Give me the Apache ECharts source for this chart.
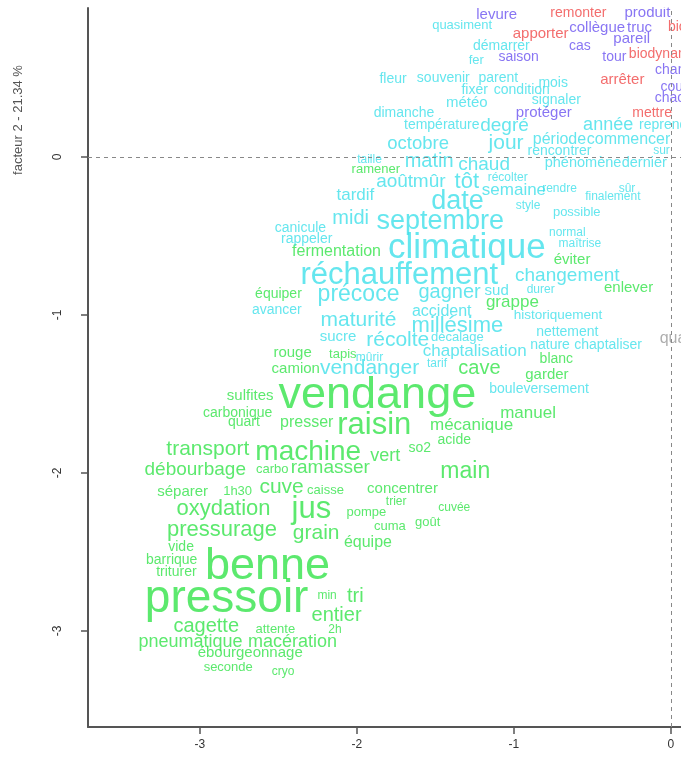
<!DOCTYPE html>
<html>
<head>
<meta charset="utf-8">
<script src="https://cdn.jsdelivr.net/npm/echarts@6/dist/echarts.min.js"></script>
<style>html,body{margin:0;padding:0;background:#fff;overflow:hidden}#c{width:681px;height:769px}</style>
</head>
<body>
<div id="c"></div>
<script>
// ---- data (factor coordinates and chi2-like weights per class) ----
var tickValues = [-3, -2, -1, 0];
var yAxisTitle = 'facteur 2 - 21.34 %';

var redWords = ['remonter','apporter','bio','biodynamie','arrêter','mettre'];
var redX     = [-0.59,-0.83,0.04,-0.04,-0.31,-0.12];
var redY     = [0.91,0.78,0.82,0.65,0.49,0.28];
var redScore = [12,14,12,12,14,12];

var blueWords = ['levure','produit','collègue','truc','pareil','cas','saison','tour','changer','coup','chacun','protéger'];
var blueX     = [-1.11,-0.15,-0.47,-0.20,-0.25,-0.58,-0.97,-0.36,0.06,0.03,0.04,-0.81];
var blueY     = [0.90,0.91,0.82,0.82,0.75,0.70,0.63,0.63,0.55,0.44,0.37,0.28];
var blueScore = [14,14,14,14,14,12,12,12,12,12,12,14];

var cyanWords = ['quasiment','démarrer','fer','fleur','souvenir','parent','mois','fixer','condition','météo','signaler',
  'dimanche','température','degré','année','reprendre','octobre','jour','période','commencer','rencontrer','sur','taille',
  'matin','chaud','phénomène','dernier','récolter','août','mûr','tôt','semaine','rendre','sûr','finalement','tardif','date',
  'style','possible','midi','septembre','canicule','normal','rappeler','maîtrise','climatique','changement','réchauffement',
  'précoce','gagner','sud','durer','avancer','accident','historiquement','maturité','millésime','nettement','décalage','sucre',
  'récolte','nature','chaptaliser','chaptalisation','mûrir','vendanger','tarif','bouleversement'];
var cyanX = [-1.33,-1.08,-1.24,-1.77,-1.45,-1.10,-0.75,-1.25,-0.95,-1.30,-0.73,
  -1.70,-1.46,-1.06,-0.40,-0.01,-1.61,-1.05,-0.71,-0.27,-0.71,-0.06,-1.92,
  -1.54,-1.19,-0.56,-0.17,-1.04,-1.76,-1.54,-1.30,-1.00,-0.71,-0.28,-0.37,-2.01,-1.36,
  -0.91,-0.60,-2.04,-1.47,-2.36,-0.66,-2.32,-0.58,-1.30,-0.66,-1.73,
  -1.99,-1.41,-1.11,-0.83,-2.51,-1.46,-0.72,-1.99,-1.36,-0.66,-1.36,-2.12,
  -1.74,-0.77,-0.40,-1.25,-1.92,-1.92,-1.49,-0.84];
var cyanY = [0.83,0.70,0.61,0.49,0.50,0.50,0.47,0.42,0.42,0.34,0.36,
  0.28,0.20,0.20,0.20,0.20,0.08,0.09,0.11,0.11,0.04,0.04,-0.02,
  -0.03,-0.05,-0.04,-0.04,-0.13,-0.16,-0.16,-0.16,-0.21,-0.20,-0.20,-0.25,-0.24,-0.28,
  -0.31,-0.35,-0.39,-0.41,-0.45,-0.48,-0.52,-0.55,-0.58,-0.75,-0.75,
  -0.87,-0.86,-0.85,-0.84,-0.97,-0.98,-1.00,-1.03,-1.07,-1.11,-1.14,-1.14,
  -1.16,-1.19,-1.19,-1.23,-1.27,-1.34,-1.31,-1.47];
var cyanScore = [10,12,10,12,12,12,12,12,12,14,12,
  12,12,22,20,12,21,26,16,16,12,8,8,
  24,22,13,13,8,22,22,28,18,8,8,8,18,38,
  8,10,24,38,12,8,12,8,54,22,46,
  30,24,14,8,12,16,11,26,28,12,10,14,
  26,12,12,18,8,26,8,12];

var greenWords = ['ramener','fermentation','éviter','enlever','grappe','équiper','rouge','tapis','camion','cave','blanc','garder',
  'sulfites','vendange','carbonique','quart','presser','raisin','manuel','mécanique','acide','so2','transport','machine','vert',
  'débourbage','carbo','ramasser','main','séparer','1h30','cuve','caisse','concentrer','trier','oxydation','jus','pompe','cuvée',
  'goût','cuma','pressurage','grain','équipe','vide','barrique','benne','triturer','pressoir','min','tri','entier','cagette',
  'attente','2h','pneumatique','macération','ébourgeonnage','seconde','cryo'];
var greenX = [-1.88,-2.13,-0.63,-0.27,-1.01,-2.50,-2.41,-2.09,-2.39,-1.22,-0.73,-0.79,
  -2.68,-1.87,-2.76,-2.72,-2.32,-1.89,-0.91,-1.27,-1.38,-1.60,-2.95,-2.31,-1.82,
  -3.03,-2.54,-2.17,-1.31,-3.11,-2.76,-2.48,-2.20,-1.71,-1.75,-2.85,-2.29,-1.94,-1.38,
  -1.55,-1.79,-2.86,-2.26,-1.93,-3.12,-3.18,-2.57,-3.15,-2.83,-2.19,-2.01,-2.13,-2.96,
  -2.52,-2.14,-3.06,-2.41,-2.68,-2.82,-2.47];
var greenY = [-0.08,-0.60,-0.65,-0.83,-0.92,-0.87,-1.24,-1.25,-1.34,-1.34,-1.28,-1.38,
  -1.51,-1.51,-1.62,-1.68,-1.68,-1.70,-1.62,-1.70,-1.79,-1.84,-1.85,-1.87,-1.89,
  -1.98,-1.98,-1.97,-1.99,-2.12,-2.12,-2.09,-2.11,-2.10,-2.18,-2.23,-2.23,-2.25,-2.22,
  -2.31,-2.34,-2.36,-2.38,-2.44,-2.47,-2.55,-2.59,-2.63,-2.80,-2.78,-2.78,-2.90,-2.97,
  -2.99,-2.99,-3.07,-3.07,-3.14,-3.23,-3.26];
var greenScore = [10,16,14,14,18,12,14,10,14,24,12,14,
  14,74,12,12,16,46,18,18,12,12,26,40,20,
  22,10,22,30,14,10,26,10,14,8,28,46,10,8,
  10,10,28,26,16,12,12,74,12,76,8,24,24,24,
  10,8,20,20,14,10,8];

var greyWords = ['quand'];
var greyX = [0.07];
var greyY = [-1.15];
var greyScore = [16];

// ---- rendering ----
var FONT = '"Liberation Sans", Arial, sans-serif';
function fontSizeOf(score){ return 8 + score / 2; }
function build(words, xs, ys, scores){
  return words.map(function(w, i){
    return { name: w, value: [xs[i], ys[i]], label: { fontSize: fontSizeOf(scores[i]) } };
  });
}
function wordSeries(words, xs, ys, scores, color, extra){
  var s = {
    type: 'scatter', symbol: 'circle', symbolSize: 1, clip: false, silent: true,
    itemStyle: { color: 'rgba(0,0,0,0)' },
    label: { show: true, position: 'inside', formatter: '{b}', color: color, fontFamily: FONT },
    labelLayout: { hideOverlap: false },
    data: build(words, xs, ys, scores)
  };
  if (extra) for (var k in extra) s[k] = extra[k];
  return s;
}

var chart = echarts.init(document.getElementById('c'), null, { renderer: 'canvas' });
chart.setOption({
  animation: false,
  backgroundColor: '#ffffff',
  grid: { left: 88, top: 8, right: 0, bottom: 42, containLabel: false, outerBoundsMode: 'none' },
  xAxis: {
    type: 'value', min: -3.713, max: 0.064,
    axisLine: { show: true, onZero: false, lineStyle: { color: '#555', width: 2 } },
    axisTick: { show: true, length: 7, customValues: tickValues, lineStyle: { color: '#555', width: 1.5 } },
    axisLabel: { customValues: tickValues, color: '#333', fontSize: 12, margin: 12, fontFamily: FONT },
    splitLine: { show: false }
  },
  yAxis: {
    type: 'value', min: -3.608, max: 0.943,
    axisLine: { show: true, onZero: false, lineStyle: { color: '#555', width: 2 } },
    axisTick: { show: true, length: 7, customValues: tickValues, lineStyle: { color: '#555', width: 1.5 } },
    axisLabel: { customValues: tickValues, color: '#333', fontSize: 12, margin: 24, rotate: 90, fontFamily: FONT },
    splitLine: { show: false }
  },
  graphic: [
    { type: 'rect', z: 100, shape: { x: 0, y: 0, width: 681, height: 7 }, style: { fill: '#fff' } },
    { type: 'text', z: 100, x: 18, y: 120, rotation: Math.PI / 2,
      style: { text: yAxisTitle, fill: '#555', font: '13px ' + FONT, align: 'center', verticalAlign: 'middle' } }
  ],
  series: [
    wordSeries(greenWords, greenX, greenY, greenScore, '#33e34a', {
      markLine: {
        silent: true, symbol: 'none', animation: false,
        label: { show: false },
        lineStyle: { type: [4, 4], color: '#888', width: 1 },
        data: [{ yAxis: 0 }, { xAxis: 0 }]
      }
    }),
    wordSeries(cyanWords, cyanX, cyanY, cyanScore, '#3fe0ea'),
    wordSeries(blueWords, blueX, blueY, blueScore, '#6a52f0'),
    wordSeries(redWords, redX, redY, redScore, '#f04848'),
    wordSeries(greyWords, greyX, greyY, greyScore, '#9a9a9a')
  ]
});
</script>
</body>
</html>
